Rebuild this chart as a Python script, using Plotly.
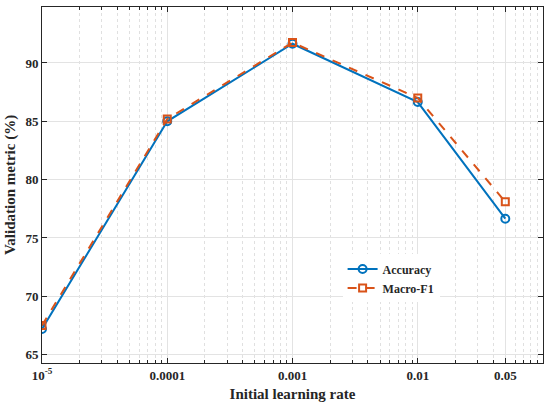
import plotly.graph_objects as go

learning_rates = [1e-5, 1e-4, 1e-3, 1e-2, 5e-2]
accuracy = [67.2, 85.0, 91.65, 86.65, 76.65]
macro_f1 = [67.5, 85.2, 91.75, 87.0, 78.1]

x_tick_vals = [1e-5, 1e-4, 1e-3, 1e-2, 5e-2]
x_tick_text = ["10<sup>-5</sup>", "0.0001", "0.001", "0.01", "0.05"]
y_tick_vals = [65, 70, 75, 80, 85, 90]

# minor ticks 2..9 in every decade
minor_vals = [m * 10 ** e for e in range(-5, -1) for m in range(2, 10)]

blue = "#0072BD"
orange = "#D95319"
font = "Liberation Serif"

fig = go.Figure()
fig.add_trace(go.Scatter(
    x=learning_rates, y=accuracy, name="<b>Accuracy</b>",
    mode="lines+markers",
    line=dict(color=blue, width=2),
    marker=dict(symbol="circle-open", size=8, color=blue, line=dict(width=2)),
))
fig.add_trace(go.Scatter(
    x=learning_rates, y=macro_f1, name="<b>Macro-F1</b>",
    mode="lines+markers",
    line=dict(color=orange, width=2, dash="dash"),
    marker=dict(symbol="square-open", size=7, color=orange, line=dict(width=2)),
))

axis_common = dict(
    showline=True, linecolor="#262626", linewidth=1, mirror="ticks",
    ticks="inside", ticklen=5, tickcolor="#262626",
    gridcolor="#e3e3e3", gridwidth=1, zeroline=False,
    tickfont=dict(family=font, size=13, color="#262626"),
)

fig.update_xaxes(
    type="log", range=[-5, -1],
    tickvals=x_tick_vals, ticktext=[f"<b>{t}</b>" for t in x_tick_text],
    title=dict(text="<b>Initial learning rate</b>", font=dict(family=font, size=15, color="#262626"), standoff=6),
    minor=dict(tickvals=minor_vals, ticks="inside", ticklen=3, tickcolor="#262626",
               showgrid=True, gridcolor="#e0e0e0", griddash="dot", gridwidth=1),
    **axis_common,
)
fig.update_yaxes(
    range=[64.28, 94.8],
    tickvals=y_tick_vals, ticktext=[f"<b>{v}</b>" for v in y_tick_vals],
    title=dict(text="<b>Validation metric (%)</b>", font=dict(family=font, size=15, color="#262626"), standoff=6),
    **axis_common,
)

fig.update_layout(
    width=550, height=408,
    margin=dict(l=42, r=7, t=7, b=45, autoexpand=False),
    plot_bgcolor="white", paper_bgcolor="white",
    font=dict(family=font, color="#262626"),
    showlegend=True,
    legend=dict(x=0.6, y=0.305, xanchor="left", yanchor="top",
                bgcolor="white", borderwidth=0,
                font=dict(family=font, size=12, color="#262626"),
                tracegroupgap=0, itemwidth=30),
)

fig.write_html("out.html", config={"displayModeBar": False},
               post_script="document.body.style.margin='0';")
